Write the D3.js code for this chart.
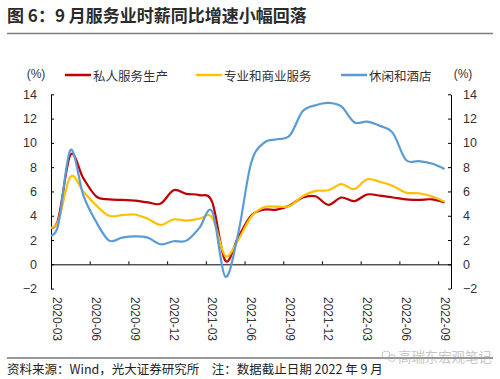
<!DOCTYPE html>
<html><head><meta charset="utf-8">
<script src="https://cdn.jsdelivr.net/npm/d3@7"></script>
<style>
body{margin:0;background:#fff;}
text{font-family:"Liberation Sans","Noto Sans CJK SC",sans-serif;}
.cjk{font-family:"Noto Sans CJK SC",sans-serif;}
</style></head>
<body><svg id="c" width="500" height="379"></svg>
<script>
const months = ["2020-02","2020-03","2020-04","2020-05","2020-06","2020-07","2020-08","2020-09","2020-10","2020-11","2020-12",
"2021-01","2021-02","2021-03","2021-04","2021-05","2021-06","2021-07","2021-08","2021-09","2021-10","2021-11","2021-12",
"2022-01","2022-02","2022-03","2022-04","2022-05","2022-06","2022-07","2022-08","2022-09"];
const privateService = [3.2,3.5,9.0,7.1,5.6,5.35,5.3,5.25,5.1,5.0,6.1,5.8,5.7,5.1,0.3,2.2,4.0,4.5,4.5,4.85,5.5,5.6,4.9,5.5,5.2,5.75,5.65,5.5,5.35,5.3,5.35,5.1];
const profBusiness = [3.1,3.4,7.2,6.0,4.85,4.0,4.05,4.1,3.75,3.25,3.7,3.6,3.75,3.85,0.7,2.0,3.9,4.7,4.75,4.8,5.6,6.05,6.1,6.6,6.2,7.0,6.8,6.45,5.9,5.85,5.6,5.15];
const leisure = [2.6,3.0,9.4,5.7,3.5,1.95,2.2,2.3,2.2,1.65,1.9,1.95,3.0,4.35,-1.0,2.5,8.3,10.0,10.3,10.6,12.6,13.1,13.3,13.0,11.7,11.75,11.4,10.8,8.6,8.5,8.3,7.85];
const seriesNames = ["私人服务生产","专业和商业服务","休闲和酒店"];
const seriesColors = ["#C00000","#FFC000","#5B9BD5"];
const xLabels = ["2020-03","2020-06","2020-09","2020-12","2021-03","2021-06","2021-09","2021-12","2022-03","2022-06","2022-09"];
const yTicks = [-2,0,2,4,6,8,10,12,14];
const title = "图 6：9 月服务业时薪同比增速小幅回落";
const source = "资料来源：Wind，光大证券研究所　注：数据截止日期 2022 年 9 月";

const svg = d3.select("#c");
const L = 51, R = 451, T = 94.3, B = 288.6;
const firstAxisMonth = "2020-03";
const axisMonths = months.slice(months.indexOf(firstAxisMonth));
const x = d3.scaleLinear().domain([-0.5, axisMonths.length - 0.5]).range([L, R]);
const xi = m => x(months.indexOf(m) - months.indexOf(firstAxisMonth));
const y = d3.scaleLinear().domain([-2, 14]).range([B, T]);

svg.append("rect").attr("width",500).attr("height",379).attr("fill","#fff");
// title
svg.append("text").attr("class","cjk").attr("x",7).attr("y",14).attr("dominant-baseline","central")
  .attr("font-size",17).attr("font-weight","bold").attr("fill","#2b2b2b").text(title);
svg.append("line").attr("x1",7).attr("x2",493).attr("y1",33.5).attr("y2",33.5).attr("stroke","#7f7f7f").attr("stroke-width",1.5);

// legend
svg.append("text").attr("x",36).attr("y",74).attr("text-anchor","middle").attr("dominant-baseline","central").attr("font-size",12).attr("fill","#333").text("(%)");
svg.append("text").attr("x",463).attr("y",74).attr("text-anchor","middle").attr("dominant-baseline","central").attr("font-size",12).attr("fill","#333").text("(%)");
const legX = [65,196,341];
seriesNames.forEach((n,i)=>{
  svg.append("line").attr("x1",legX[i]).attr("x2",legX[i]+26).attr("y1",75).attr("y2",75).attr("stroke",seriesColors[i]).attr("stroke-width",2.5);
  svg.append("text").attr("class","cjk").attr("x",legX[i]+28).attr("y",75).attr("dominant-baseline","central").attr("font-size",12.5).attr("fill","#333").text(n);
});

// axes
const yl = svg.append("g").attr("transform",`translate(${L},0)`)
  .call(d3.axisLeft(y).tickValues(yTicks).tickSizeInner(-3).tickSizeOuter(0).tickPadding(14).tickFormat(d3.format("d")));
const yr = svg.append("g").attr("transform",`translate(${R},0)`)
  .call(d3.axisRight(y).tickValues(yTicks).tickSizeInner(-3).tickSizeOuter(0).tickPadding(12).tickFormat(d3.format("d")));
[yl,yr].forEach(g=>{
  g.selectAll("text").attr("font-size",12.5).attr("fill","#333").attr("font-family","Liberation Sans, sans-serif");
  g.selectAll("path,line").attr("stroke","#000");
});
const tickBounds = d3.range(0, axisMonths.length, 3).map(i=>i-0.5);
const xa = svg.append("g").attr("transform",`translate(0,${y(0)})`)
  .call(d3.axisBottom(x).tickValues(tickBounds).tickSizeInner(-3).tickSizeOuter(0).tickFormat(""));
xa.selectAll("path,line").attr("stroke","#000");

// x labels
xLabels.forEach(m=>{
  const cx = xi(m);
  svg.append("text").attr("transform",`translate(${cx},297) rotate(90)`)
    .attr("dominant-baseline","central").attr("font-size",12).attr("fill","#333").text(m);
});

// lines
svg.append("clipPath").attr("id","clip").append("rect").attr("x",L).attr("y",T-10).attr("width",R-L).attr("height",B-T+20);
const line = d3.line().x((d,i)=>xi(months[i])).y(d=>y(d)).curve(d3.curveCardinal);
[privateService, profBusiness, leisure].forEach((s,i)=>{
  svg.append("path").attr("clip-path","url(#clip)").attr("d",line(s)).attr("fill","none")
    .attr("stroke",seriesColors[i]).attr("stroke-width",2.2).attr("stroke-linejoin","round");
});

// footer
svg.append("line").attr("x1",7).attr("x2",493).attr("y1",358).attr("y2",358).attr("stroke","#333").attr("stroke-width",1);
svg.append("text").attr("class","cjk").attr("x",7).attr("y",368).attr("dominant-baseline","central").attr("font-size",12.5).attr("fill","#222").text(source);
const wm = svg.append("g").attr("opacity",0.55);
wm.append("circle").attr("cx",386).attr("cy",355).attr("r",4).attr("fill","none").attr("stroke","#999");
wm.append("circle").attr("cx",392).attr("cy",358).attr("r",3.5).attr("fill","none").attr("stroke","#999");
wm.append("text").attr("class","cjk").attr("x",398).attr("y",356).attr("dominant-baseline","central").attr("font-size",13.4).attr("fill","#999").text("高瑞东宏观笔记");
</script></body></html>
